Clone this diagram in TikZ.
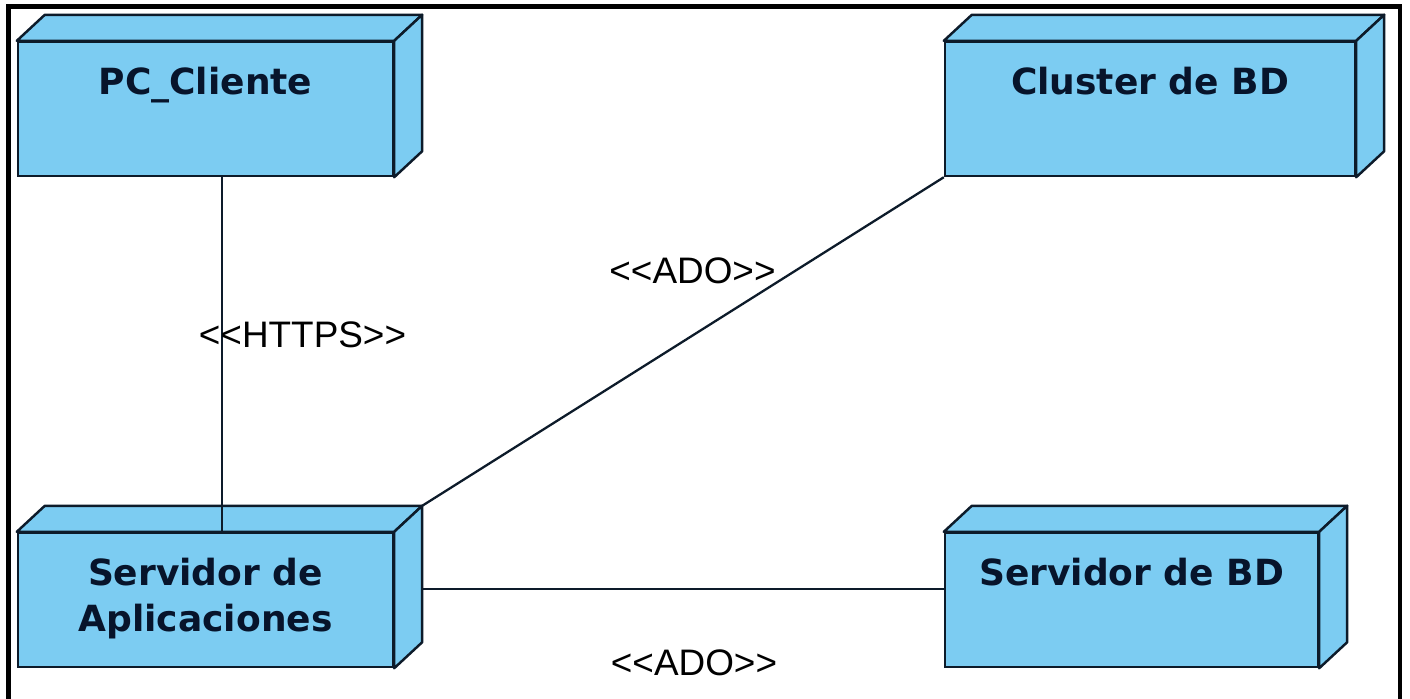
\documentclass[tikz,border=0pt]{standalone}
\usepackage{fontspec}
\setmainfont{Liberation Sans}
\newfontfamily\nodofont{DejaVu Sans}
\usepackage{tikz}
\usetikzlibrary{positioning,calc}
\definecolor{nodoazul}{HTML}{7CCCF2}
\definecolor{borde}{HTML}{0D1B2A}
\definecolor{texto}{HTML}{07142B}
% caras superior y lateral de un nodo UML
\newcommand{\caja}[1]{%
  \filldraw[cara] (#1.north west) -- ++(28,-26) -- ([shift={(28,-26)}]#1.north east) -- (#1.north east) -- cycle;
  \filldraw[cara] (#1.north east) -- ++(28,-26) -- ([shift={(28,-26)}]#1.south east) -- (#1.south east) -- cycle;
}

\begin{document}
\begin{tikzpicture}[
  x=0.02cm, y=-0.02cm,
  nodo/.style={rectangle, draw=borde, fill=nodoazul, line width=1.4pt, minimum height=2.68cm, inner sep=0pt},
  cara/.style={draw=borde, fill=nodoazul, line width=1.4pt, line join=round},
  titulo/.style={font=\nodofont\bfseries\fontsize{20.5}{26}\selectfont, text=texto, align=center, anchor=north, inner sep=0pt},
  etiqueta/.style={font=\fontsize{21}{25}\selectfont, anchor=base, inner sep=0pt},
  conector/.style={draw=borde, line width=1.3pt},
  marco/.style={draw=black, line width=2.3pt}
]
  \useasboundingbox[fill=white] (0,0) rectangle (1410,698);
  \draw[marco] (8.5,6.5) rectangle (1400,720);

  % nodos
  \node[nodo, minimum width=7.5cm] (pc) at (205.5,109) {};
  \node[nodo, minimum width=8.2cm] (cl) at (1150,109) {};
  \node[nodo, minimum width=7.5cm] (sa) at (205.5,600) {};
  \node[nodo, minimum width=7.46cm] (sb) at (1131.5,600) {};
  \caja{pc}
  \caja{cl}
  \caja{sa}
  \caja{sb}

  \node[titulo] (tpc) at ([yshift=-0.52cm]pc.north) {PC\_Cliente};
  \node[titulo] (tcl) at ([yshift=-0.52cm]cl.north) {Cluster de BD};
  \node[titulo] (tsa) at ([yshift=-0.52cm]sa.north) {Servidor de\\Aplicaciones};
  \node[titulo] (tsb) at ([yshift=-0.52cm]sb.north) {Servidor de BD};

  % puntos de salida de los conectores
  \coordinate (sa-esq) at ([shift={(28,-26)}]sa.north east);
  \coordinate (sa-lado) at ([shift={(28,-11)}]sa.east);

  % conectores
  \draw[conector] ([xshift=0.33cm]pc.south) -- ([xshift=0.33cm]sa.north);
  \draw[conector] (sa-esq) -- (cl.south west);
  \draw[conector] (sa-lado) -- (sa-lado -| sb.west);

  % estereotipos
  \node[etiqueta] (lhttps) at (302.5,347) {<{}<HTTPS>{}>};
  \node[etiqueta] (lado1) at (692.5,283) {<{}<ADO>{}>};
  \node[etiqueta] (lado2) at (694,675) {<{}<ADO>{}>};
\end{tikzpicture}
\end{document}
